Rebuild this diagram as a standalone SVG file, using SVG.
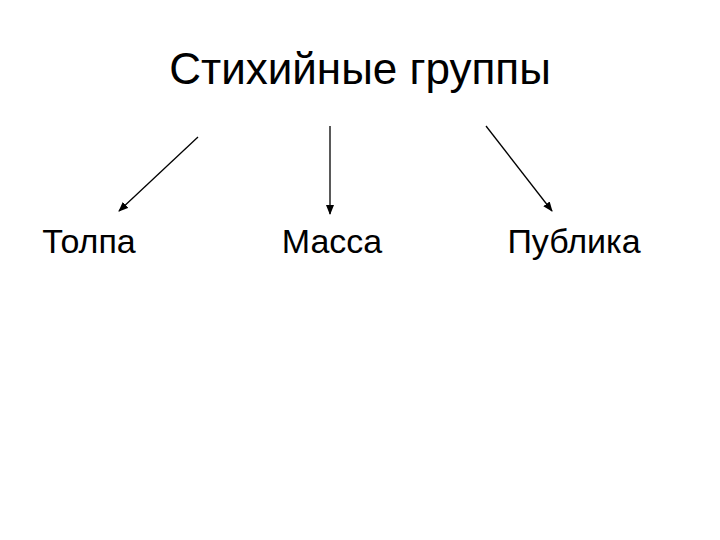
<svg xmlns="http://www.w3.org/2000/svg" width="720" height="540" viewBox="0 0 720 540">
<style>text{font-family:"Liberation Sans",Arial,sans-serif;fill:#000}.t{font-size:44px}.n{font-size:34px}line{stroke:#000;stroke-width:1.3}</style>
<defs><marker id="a" markerWidth="10" markerHeight="8" refX="9" refY="4" orient="auto" markerUnits="userSpaceOnUse"><path d="M0,0L10,4L0,8z" fill="#000"/></marker></defs>
<rect width="720" height="540" fill="#fff"/>
<g id="title"><text class="t" x="360" y="84" text-anchor="middle">Стихийные группы</text></g>
<g id="n1"><text class="n" x="89" y="253" text-anchor="middle">Толпа</text></g>
<g id="n2"><text class="n" x="332" y="253" text-anchor="middle">Масса</text></g>
<g id="n3"><text class="n" x="574" y="253" text-anchor="middle">Публика</text></g>
<g id="connectors">
<line x1="198" y1="137" x2="119" y2="211" marker-end="url(#a)"/>
<line x1="330" y1="126" x2="330" y2="214" marker-end="url(#a)"/>
<line x1="486" y1="126" x2="552" y2="211" marker-end="url(#a)"/>
</g>
</svg>
